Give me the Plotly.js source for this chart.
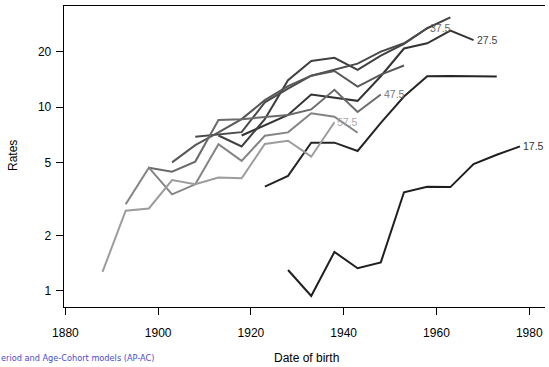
<!DOCTYPE html>
<html>
<head>
<meta charset="utf-8">
<script src="https://cdn.plot.ly/plotly-3.0.1.min.js"></script>
<style>html,body{margin:0;padding:0;background:#fff;}#chart{width:549px;height:367px;}</style>
</head>
<body>
<div id="chart"></div>
<script>
// Cohort (date of birth) grid
const cohorts = [1888,1893,1898,1903,1908,1913,1918,1923,1928,1933,1938,1943,1948,1953,1958,1963,1968,1973,1978];
// Age groups
const ages = ['17.5','22.5','27.5','32.5','37.5','42.5','47.5','52.5','57.5'];
// Rates per age group, aligned with cohorts (null = not observed)
const r17_5 = [null,null,null,null,null,null,null,null,1.30,0.94,1.63,1.33,1.43,3.44,3.69,3.67,4.90,5.5,6.11];
const r22_5 = [null,null,null,null,null,null,null,3.69,4.22,6.40,6.40,5.77,8.2,11.4,14.7,14.75,14.7,14.65,null];
const r27_5 = [null,null,null,null,null,null,7.0,8.0,9.05,11.7,11.2,10.8,14.7,20.8,22.2,26.0,23.1,null,null];
const r32_5 = [null,null,null,null,null,7.0,6.1,8.6,14.0,17.8,18.5,15.9,19.0,22.0,26.8,30.7,null,null,null];
const r37_5 = [null,null,null,null,6.9,7.1,7.3,10.6,12.6,14.8,15.9,17.2,20.0,22.2,26.8,null,null,null,null];
const r42_5 = [null,null,null,5.0,6.2,7.28,8.6,10.9,13.0,14.8,15.7,12.9,15.0,16.8,null,null,null,null,null];
const r47_5 = [null,null,4.68,4.45,5.05,8.5,8.58,8.79,9.05,9.7,12.4,9.4,11.7,null,null,null,null,null,null];
const r52_5 = [null,2.96,4.68,3.35,3.80,6.27,5.1,6.98,7.28,9.24,8.86,7.25,null,null,null,null,null,null,null];
const r57_5 = [1.27,2.73,2.81,4.01,3.80,4.14,4.10,6.29,6.56,5.37,8.26,null,null,null,null,null,null,null,null];
const labelled = ['17.5','27.5','37.5','47.5','57.5'];
const yTicks = [1,2,5,10,20];
const xTicks = [1880,1900,1920,1940,1960,1980];

const series = [r17_5,r22_5,r27_5,r32_5,r37_5,r42_5,r47_5,r52_5,r57_5];
const colors = ['#1e1e1e','#252525','#333333','#404040','#4a4a4a','#575757','#6a6a6a','#848484','#9c9c9c'];
const labelColors = ['#333333','#333333','#444444','#555555','#666666','#666666','#777777','#999999','#aaaaaa'];

const FONT = 'Liberation Sans, Arial, sans-serif';
const traces = series.map((s,i)=>({
  x: cohorts, y: s, type:'scatter', mode:'lines',
  line:{color:colors[i], width:2}, connectgaps:false, hoverinfo:'skip', showlegend:false
}));

const annotations = [];
series.forEach((s,i)=>{
  if(!labelled.includes(ages[i])) return;
  let last = -1;
  s.forEach((v,j)=>{ if(v!==null) last=j; });
  annotations.push({x:cohorts[last], y:Math.log10(s[last]), xref:'x', yref:'y', text:ages[i],
    showarrow:false, xanchor:'left', yanchor:'middle', xshift:1,
    font:{family:FONT, size:10.5, color:labelColors[i]}});
});

const M = {l:64, r:4, t:6, b:60};
const pw = 549-M.l-M.r, ph = 367-M.t-M.b;
const px = v => (v-M.l)/pw;
const py = v => (367-M.b-v)/ph;
annotations.push({xref:'paper', yref:'paper', x:px(13), y:py(156), xanchor:'center', yanchor:'middle',
  text:'Rates', textangle:-90, showarrow:false, font:{family:FONT, size:12, color:'#000'}});
annotations.push({xref:'paper', yref:'paper', x:px(306), y:py(358), xanchor:'center', yanchor:'middle',
  text:'Date of birth', showarrow:false, font:{family:FONT, size:12, color:'#000'}});
annotations.push({xref:'paper', yref:'paper', x:px(-1), y:py(358), xanchor:'left', yanchor:'middle',
  text:'eriod and Age-Cohort models (AP-AC)', showarrow:false,
  font:{family:'DejaVu Sans, sans-serif', size:8.2, color:'#4a4ad0'}});

const layout = {
  width:549, height:367,
  margin:M,
  paper_bgcolor:'#fff', plot_bgcolor:'#fff',
  font:{family:FONT, size:12, color:'#000'},
  xaxis:{range:[1879.7,1983.4], tickvals:xTicks, ticktext:xTicks.map(String), ticks:'outside', ticklen:7, tickwidth:1,
    tickcolor:'#000', showgrid:false, zeroline:false, showline:true, linecolor:'#000', linewidth:1.3, mirror:true,
    ticklabelstandoff:7, tickfont:{size:12}},
  yaxis:{type:'log', range:[-0.087,1.549], tickvals:yTicks, ticktext:yTicks.map(String), ticks:'outside', ticklen:7,
    tickwidth:1, tickcolor:'#000', showgrid:false, zeroline:false, showline:true, linecolor:'#000', linewidth:1.3,
    ticklabelstandoff:2, tickfont:{size:12}},
  annotations: annotations
};

Plotly.newPlot('chart', traces, layout, {displayModeBar:false, staticPlot:true});
</script>
</body>
</html>
